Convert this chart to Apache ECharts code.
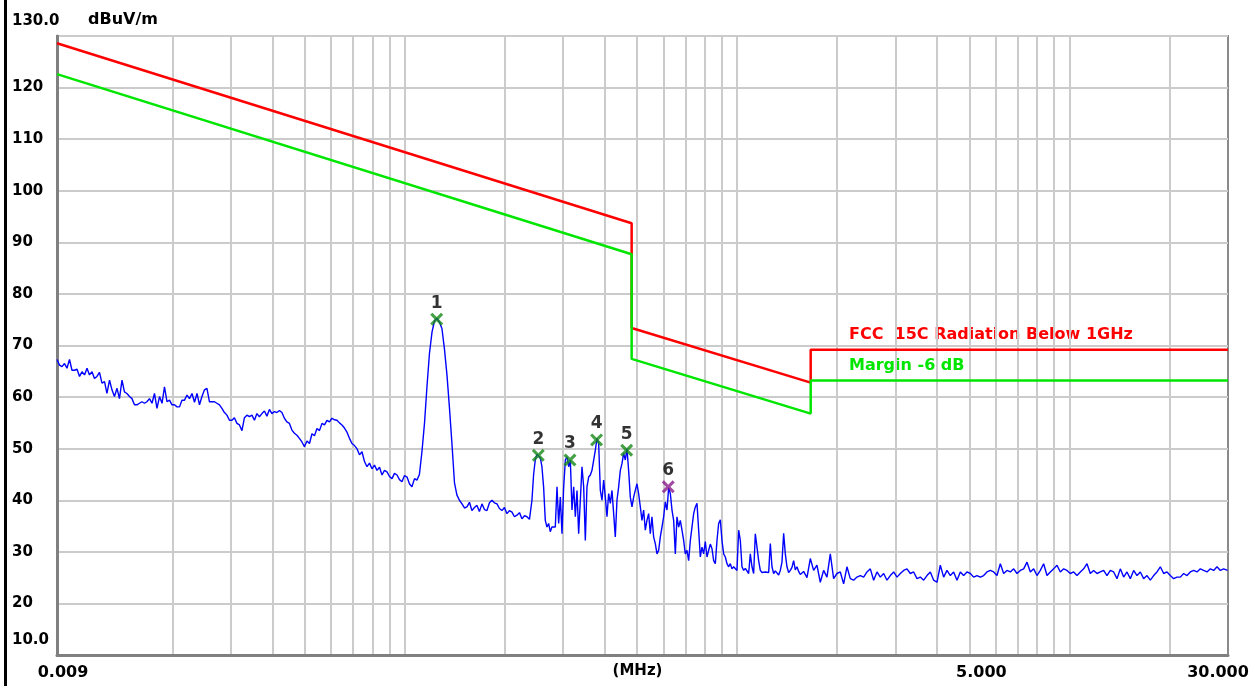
<!DOCTYPE html>
<html>
<head>
<meta charset="utf-8">
<title>FCC 15C Radiation Below 1GHz</title>
<script src="https://cdn.jsdelivr.net/npm/echarts@6/dist/echarts.min.js"></script>
<style>
  html, body { margin: 0; padding: 0; background: #fff; }
  #main { width: 1251px; height: 686px; }
</style>
</head>
<body>
<div id="main"></div>
<script>
var sweepLow = [
  [0.009,67.3],[0.009157,66.2],[0.009317,65.9],[0.00948,66.5],[0.009645,65.6],[0.009813,67.3],[0.009985,65.2],[0.01016,65.2],
  [0.01034,65.4],[0.01052,64.0],[0.0107,64.9],[0.01089,64.3],[0.01108,65.6],[0.01127,64.3],[0.01147,64.9],[0.01167,63.6],
  [0.01187,64.0],[0.01208,64.8],[0.01229,62.7],[0.01251,63.0],[0.01272,60.7],[0.01295,63.3],[0.01317,61.4],[0.0134,60.1],
  [0.01364,61.7],[0.01387,59.7],[0.01412,63.3],[0.01436,61.0],[0.01461,60.7],[0.01487,60.1],[0.01513,59.7],[0.01539,58.5],
  [0.01566,58.5],[0.01593,58.8],[0.01621,59.1],[0.0165,58.8],[0.01678,59.1],[0.01708,59.7],[0.01738,58.8],[0.01768,60.7],
  [0.01799,57.8],[0.01831,60.1],[0.01863,58.8],[0.01895,62.0],[0.01928,59.1],[0.01962,59.4],[0.01996,58.5],[0.02031,58.5],
  [0.02067,58.1],[0.02103,58.1],[0.02139,59.4],[0.02177,59.4],[0.02215,60.4],[0.02253,59.7],[0.02293,60.7],[0.02333,59.0],
  [0.02374,60.7],[0.02415,58.5],[0.02457,60.1],[0.025,61.4],[0.02543,61.7],[0.02587,59.1],[0.02633,59.1],[0.02678,59.1],
  [0.02725,58.8],[0.02773,58.5],[0.02821,57.8],[0.02871,57.0],[0.02921,56.5],[0.02972,55.5],[0.03024,55.5],[0.03076,56.0],
  [0.0313,54.9],[0.03185,54.6],[0.03241,53.5],[0.03297,56.0],[0.03355,56.5],[0.03413,56.2],[0.03473,56.5],[0.03534,55.5],
  [0.03595,56.8],[0.03658,56.2],[0.03722,56.8],[0.03787,57.3],[0.03853,56.3],[0.0392,57.6],[0.03989,56.8],[0.04058,57.2],
  [0.04129,57.0],[0.04201,57.4],[0.04275,57.0],[0.04349,55.9],[0.04425,55.2],[0.04503,54.9],[0.04581,53.6],[0.04661,53.0],
  [0.04743,52.6],[0.04825,52.0],[0.0491,51.3],[0.04996,50.4],[0.05085,51.5],[0.05174,51.0],[0.05264,52.9],[0.05356,52.5],
  [0.05449,53.9],[0.05545,53.5],[0.05641,54.9],[0.0574,54.6],[0.0584,55.5],[0.05942,55.2],[0.06046,55.9],[0.06152,55.6],
  [0.06259,55.5],[0.06368,55.0],[0.0648,54.6],[0.06593,54.0],[0.06708,53.2],[0.06825,52.0],[0.06944,51.0],[0.07066,50.6],
  [0.0719,50.0],[0.07316,48.8],[0.07444,49.4],[0.07574,47.5],[0.07706,46.5],[0.07841,47.2],[0.07977,46.1],[0.08117,46.8],
  [0.08259,45.8],[0.08403,46.4],[0.0855,44.9],[0.08699,45.8],[0.08851,45.5],[0.09005,44.6],[0.09163,44.2],[0.09323,45.2],
  [0.09486,44.9],[0.09651,44.0],[0.0982,43.6],[0.09991,44.8],[0.1017,44.5],[0.1034,43.2],[0.1052,42.6],[0.1071,44.2],
  [0.1089,43.9],[0.1108,45.0],[0.1128,49.5],[0.1148,55.0],[0.1168,62.2],[0.1188,68.5],[0.1209,72.6],[0.123,74.8],
  [0.1251,75.3],[0.1273,74.5],[0.1295,73.3],[0.1318,69.3],[0.1341,64.3],[0.1364,58.0],[0.1388,51.0],[0.1413,43.3],
  [0.1437,41.0],[0.1462,40.0],[0.1488,39.3],[0.1514,38.5],[0.154,38.7],[0.1567,39.6],[0.1594,38.0],[0.1622,38.6],
  [0.1651,39.0],[0.1679,37.8],[0.1709,39.3],[0.1739,38.2],[0.1769,38.0],[0.18,39.5],[0.1831,40.0],[0.1863,39.5],
  [0.1896,39.3],[0.1929,38.4],[0.1963,38.0],[0.1997,38.6],[0.2032,37.4],[0.2067,38.0],[0.2104,37.7],[0.214,36.8],
  [0.2178,37.1],[0.2216,37.6],[0.2254,36.4],[0.2294,37.0],[0.2334,36.8],[0.2375,36.3]
];
var sweepMid = [
  [0.2416,40.0],[0.2444,45.0],[0.2472,47.8],[0.2501,48.9],[0.253,48.8],[0.256,48.2],[0.2589,46.5],[0.2619,42.6],
  [0.265,36.1],[0.2681,34.8],[0.2712,35.5],[0.2743,33.9],[0.2775,34.8],[0.2807,35.1],[0.284,34.8],[0.2874,42.6],
  [0.2907,35.5],[0.2941,40.6],[0.2975,33.5],[0.301,42.6],[0.3045,47.8],[0.308,48.4],[0.3116,46.5],[0.3152,47.8],
  [0.3188,38.1],[0.3226,42.6],[0.3263,36.8],[0.3301,41.9],[0.3339,33.5],[0.3378,40.0],[0.3417,46.5],[0.3457,42.6],
  [0.3497,32.2],[0.3537,42.6],[0.3579,44.5],[0.362,44.9],[0.3662,45.8],[0.3705,46.1],[0.3748,49.7],[0.3791,52.0],
  [0.3835,51.0],[0.388,41.9],[0.3925,40.0],[0.397,43.9],[0.4016,40.6],[0.4063,36.8],[0.411,41.3],[0.4158,39.4],
  [0.4206,41.9],[0.4255,37.4],[0.4304,32.9],[0.4354,40.0],[0.4405,42.6],[0.4456,45.8],[0.4507,47.1],[0.456,49.1],
  [0.4613,47.8],[0.4666,50.0],[0.472,45.8],[0.4775,40.6],[0.4831,38.7],[0.4887,40.6],[0.4943,41.9],[0.5001,43.2],
  [0.5059,41.3],[0.5118,38.7],[0.5177,36.1],[0.5237,38.1],[0.5298,34.2],[0.5359,36.1],[0.5422,37.4],[0.5485,33.5],
  [0.5548,36.8],[0.5613,32.9],[0.5678,31.6],[0.5745,29.6],[0.5812,30.3],[0.5879,32.9],[0.5947,34.8],[0.6016,36.8],
  [0.6086,39.7],[0.6157,38.1],[0.6228,42.4],[0.6301,41.3],[0.6374,38.1],[0.6448,36.1],[0.6523,29.6],[0.6598,36.8],
  [0.6675,34.8],[0.6752,36.1],[0.6831,34.2],[0.691,32.2],[0.699,29.6],[0.7071,30.3],[0.7154,28.3],[0.7237,32.2],
  [0.7321,34.8],[0.7406,37.4],[0.7492,38.7],[0.7579,39.4],[0.7667,34.2],[0.7756,29.0],[0.7846,30.9],[0.7937,29.6],
  [0.8029,32.0],[0.8123,29.0],[0.8217,30.3],[0.8312,31.5],[0.8409,30.6],[0.8506,28.3],[0.8605,27.7],[0.8705,32.2],
  [0.8806,35.5],[0.8908,36.2],[0.9012,32.2],[0.9116,29.6],[0.9222,29.0],[0.9329,27.7],[0.9438,27.1],[0.9547,27.7],
  [0.9658,26.7],[0.977,27.1],[0.9884,26.8],[0.9998,26.4],[1.0115,34.2],[1.0232,32.2],[1.0351,27.1],[1.0471,26.4],
  [1.0593,26.8],[1.0715,27.1],[1.084,25.8],[1.0965,29.6],[1.1093,27.1],[1.1222,25.8],[1.1352,33.5],[1.1484,30.9],
  [1.1617,28.3],[1.1752,26.4],[1.1889,26.0],[1.2027,25.8],[1.2167,26.1],[1.2308,26.4],[1.2451,26.0],[1.2595,31.6],
  [1.2741,27.1],[1.2889,25.8],[1.3039,26.3],[1.319,26.1],[1.3343,25.5],[1.3498,26.4],[1.3655,28.0],[1.3814,33.6],
  [1.3974,29.6],[1.4136,27.1],[1.43,26.0],[1.4466,26.4],[1.4634,27.0],[1.4804,28.3],[1.4976,26.5],[1.515,27.1],
  [1.5326,26.2]
];
var sweepHigh = [
  [1.5504,25.6],[1.5866,26.2],[1.6236,25.0],[1.6615,28.7],[1.7003,26.4],[1.74,27.4],[1.7806,24.1],[1.8222,26.4],
  [1.8648,25.1],[1.9084,29.6],[1.953,24.8],[1.9986,25.8],[2.0453,26.1],[2.093,23.8],[2.1419,27.1],[2.1919,24.8],
  [2.2432,24.5],[2.2959,25.1],[2.3495,25.4],[2.4044,25.1],[2.4606,26.1],[2.5181,26.7],[2.5769,24.5],[2.637,26.1],
  [2.6986,25.1],[2.7617,25.8],[2.8262,24.5],[2.8922,25.4],[2.9598,26.1],[3.0288,25.1],[3.0995,25.8],[3.172,26.4],
  [3.2463,26.7],[3.3221,25.8],[3.3998,26.1],[3.4791,24.8],[3.5604,25.1],[3.6436,24.5],[3.7286,25.4],[3.8157,26.1],
  [3.9049,24.5],[3.996,24.1],[4.0893,27.4],[4.1849,25.1],[4.2826,26.4],[4.3826,25.4],[4.485,26.1],[4.59,24.5],
  [4.6972,26.1],[4.8069,25.4],[4.9192,26.1],[5.0341,25.8],[5.1517,25.1],[5.272,25.4],[5.3952,25.1],[5.5212,25.4],
  [5.6501,26.1],[5.782,26.4],[5.9172,26.1],[6.0553,25.4],[6.1967,27.7],[6.3415,25.8],[6.49,26.4],[6.6416,26.1],
  [6.7968,26.7],[6.9554,25.8],[7.1179,26.4],[7.2843,26.7],[7.4543,28.0],[7.6284,26.1],[7.8067,26.7],[7.9889,25.4],
  [8.1755,26.4],[8.3666,27.7],[8.5619,25.4],[8.7619,26.1],[8.9666,26.7],[9.176,27.4],[9.3903,26.1],[9.6097,26.7],
  [9.834,26.4],[10.064,25.8],[10.299,26.1],[10.539,25.4],[10.785,26.1],[11.038,26.7],[11.295,27.7],[11.559,25.8],
  [11.829,26.4],[12.105,25.8],[12.388,26.1],[12.678,26.4],[12.974,25.4],[13.277,26.4],[13.587,26.1],[13.904,24.8],
  [14.229,26.7],[14.561,25.1],[14.902,26.1],[15.25,24.8],[15.606,26.4],[15.97,25.4],[16.343,26.1],[16.725,24.8],
  [17.116,25.4],[17.516,24.5],[17.925,25.4],[18.345,26.1],[18.773,27.1],[19.212,25.8],[19.66,26.1],[20.119,25.4],
  [20.589,24.8],[21.07,25.1],[21.562,25.1],[22.066,25.8],[22.581,25.4],[23.108,26.1],[23.649,26.4],[24.201,26.1],
  [24.766,26.7],[25.345,26.4],[25.94,26.1],[26.546,26.7],[27.166,26.4],[27.8,27.1],[28.449,26.4],[29.114,26.7],
  [29.9,26.4]
];

// limit line (FCC 15C) and -6 dB margin, corner points
var limitFreq = [0.009, 0.482, 0.482, 1.666, 1.666, 30];
var limitLevel = [128.6, 93.7, 73.4, 62.8, 69.2, 69.2];
var marginLevel = [122.6, 87.7, 67.4, 56.8, 63.2, 63.2];

// peak markers
var markerFreq = [0.1249, 0.2525, 0.3145, 0.378, 0.4657, 0.6212];
var markerLevel = [75.1, 48.7, 47.8, 51.7, 49.7, 42.6];
var markerLabel = ['1', '2', '3', '4', '5', '6'];

// axes
var gridFreqs = [0.02, 0.03, 0.04, 0.05, 0.06, 0.07, 0.08, 0.09,
  0.1, 0.2, 0.3, 0.4, 0.5, 0.6, 0.7, 0.8, 0.9,
  1, 2, 3, 4, 5, 6, 7, 8, 9, 10, 20];
var xTickValues = [0.009, 5, 30];
var xTickText = ['0.009', '5.000', '30.000'];
var yTickValues = [10, 20, 30, 40, 50, 60, 70, 80, 90, 100, 110, 120, 130];
var yTickText = ['10.0', '20', '30', '40', '50', '60', '70', '80', '90', '100', '110', '120', '130.0'];

var trace = sweepLow.concat(sweepMid, sweepHigh);
function pairs(xs, ys) {
  return xs.map(function (x, i) { return [x, ys[i]]; });
}

var FONT = 'DejaVu Sans';
var chart = echarts.init(document.getElementById('main'));

chart.setOption({
  animation: false,
  backgroundColor: '#ffffff',
  grid: {
    left: 57, right: 23, top: 36, bottom: 31,
    containLabel: false,
    outerBoundsMode: 'none',
    show: true, borderColor: '#8a8a8a', borderWidth: 2
  },
  xAxis: {
    type: 'log',
    logBase: 10,
    min: 0.009,
    max: 30,
    name: '(MHz)',
    nameLocation: 'middle',
    nameGap: 9,
    nameMoveOverlap: false,
    nameTextStyle: {
      fontFamily: FONT, fontWeight: 'bold', fontSize: 15, color: '#000',
      verticalAlign: 'top', padding: [0, 10, 0, 0]
    },
    axisLine: { show: true, lineStyle: { color: '#808080', width: 3 } },
    axisTick: { show: false, customValues: gridFreqs },
    splitLine: { show: true, lineStyle: { color: '#cbcbcb', width: 2 } },
    axisLabel: {
      customValues: xTickValues,
      margin: 10,
      fontFamily: FONT, fontWeight: 'bold', fontSize: 16, color: '#000',
      formatter: function (v) {
        var i = v < 0.1 ? 0 : (v < 10 ? 1 : 2);
        return '{t' + i + '|' + xTickText[i] + '}';
      },
      rich: {
        t0: { fontFamily: FONT, fontWeight: 'bold', fontSize: 16, color: '#000', padding: [0, 0, 0, 12] },
        t1: { fontFamily: FONT, fontWeight: 'bold', fontSize: 16, color: '#000', padding: [0, 0, 0, 24] },
        t2: { fontFamily: FONT, fontWeight: 'bold', fontSize: 16, color: '#000', padding: [0, 20, 0, 0] }
      }
    }
  },
  yAxis: {
    type: 'value',
    min: 10,
    max: 130,
    interval: 10,
    name: 'dBuV/m',
    nameLocation: 'end',
    nameGap: 16,
    nameTextStyle: {
      fontFamily: FONT, fontWeight: 'bold', fontSize: 16, color: '#000',
      align: 'left', verticalAlign: 'middle', padding: [0, 0, 0, 31]
    },
    axisLine: { show: true, lineStyle: { color: '#808080', width: 3 } },
    axisTick: { show: false },
    splitLine: { show: true, lineStyle: { color: '#cbcbcb', width: 2 } },
    axisLabel: {
      align: 'left',
      margin: 45,
      fontFamily: FONT, fontWeight: 'bold', fontSize: 15, color: '#000',
      formatter: function (v) {
        var i = yTickValues.indexOf(Math.round(v));
        var s = i >= 0 ? yTickText[i] : '';
        return (i === 0 || i === yTickValues.length - 1) ? '{edge|' + s + '}' : s;
      },
      rich: {
        edge: { fontFamily: FONT, fontWeight: 'bold', fontSize: 15, color: '#000', padding: [0, 0, 30, 0] }
      }
    }
  },
  series: [
    {
      name: 'Trace',
      type: 'line',
      data: trace,
      showSymbol: false,
      lineStyle: { color: '#0000ff', width: 1.4 },
      z: 3
    },
    {
      name: 'FCC 15C Radiation Below 1GHz',
      type: 'line',
      data: pairs(limitFreq, limitLevel),
      showSymbol: false,
      lineStyle: { color: '#ff0000', width: 2.5 },
      z: 4
    },
    {
      name: 'Margin -6 dB',
      type: 'line',
      data: pairs(limitFreq, marginLevel),
      showSymbol: false,
      lineStyle: { color: '#00e600', width: 2.5 },
      z: 4
    },
    {
      name: 'Markers',
      type: 'scatter',
      data: markerFreq.map(function (f, i) {
        return { name: markerLabel[i], value: [f, markerLevel[i]] };
      }),
      symbol: 'path://M0,2L2,0L6,4L10,0L12,2L8,6L12,10L10,12L6,8L2,12L0,10L4,6Z',
      symbolSize: 13,
      itemStyle: {
        color: function (p) { return p.dataIndex === 5 ? '#8b1a8b' : '#178a17'; }
      },
      label: {
        show: true,
        position: 'top',
        distance: 1,
        formatter: '{b}',
        fontFamily: FONT, fontWeight: 'bold', fontSize: 17, color: '#000'
      },
      z: 6
    }
  ],
  graphic: [
    { type: 'rect', shape: { x: 4, y: 0, width: 3, height: 686 }, style: { fill: '#000' } },
    {
      type: 'text',
      style: {
        x: 849, y: 335, text: 'FCC  15C Radiation Below 1GHz',
        fill: '#ff0000', font: 'bold 16px "DejaVu Sans"', verticalAlign: 'middle'
      }
    },
    {
      type: 'text',
      style: {
        x: 849, y: 366, text: 'Margin -6 dB',
        fill: '#00e600', font: 'bold 16px "DejaVu Sans"', verticalAlign: 'middle'
      }
    }
  ]
});
</script>
</body>
</html>
